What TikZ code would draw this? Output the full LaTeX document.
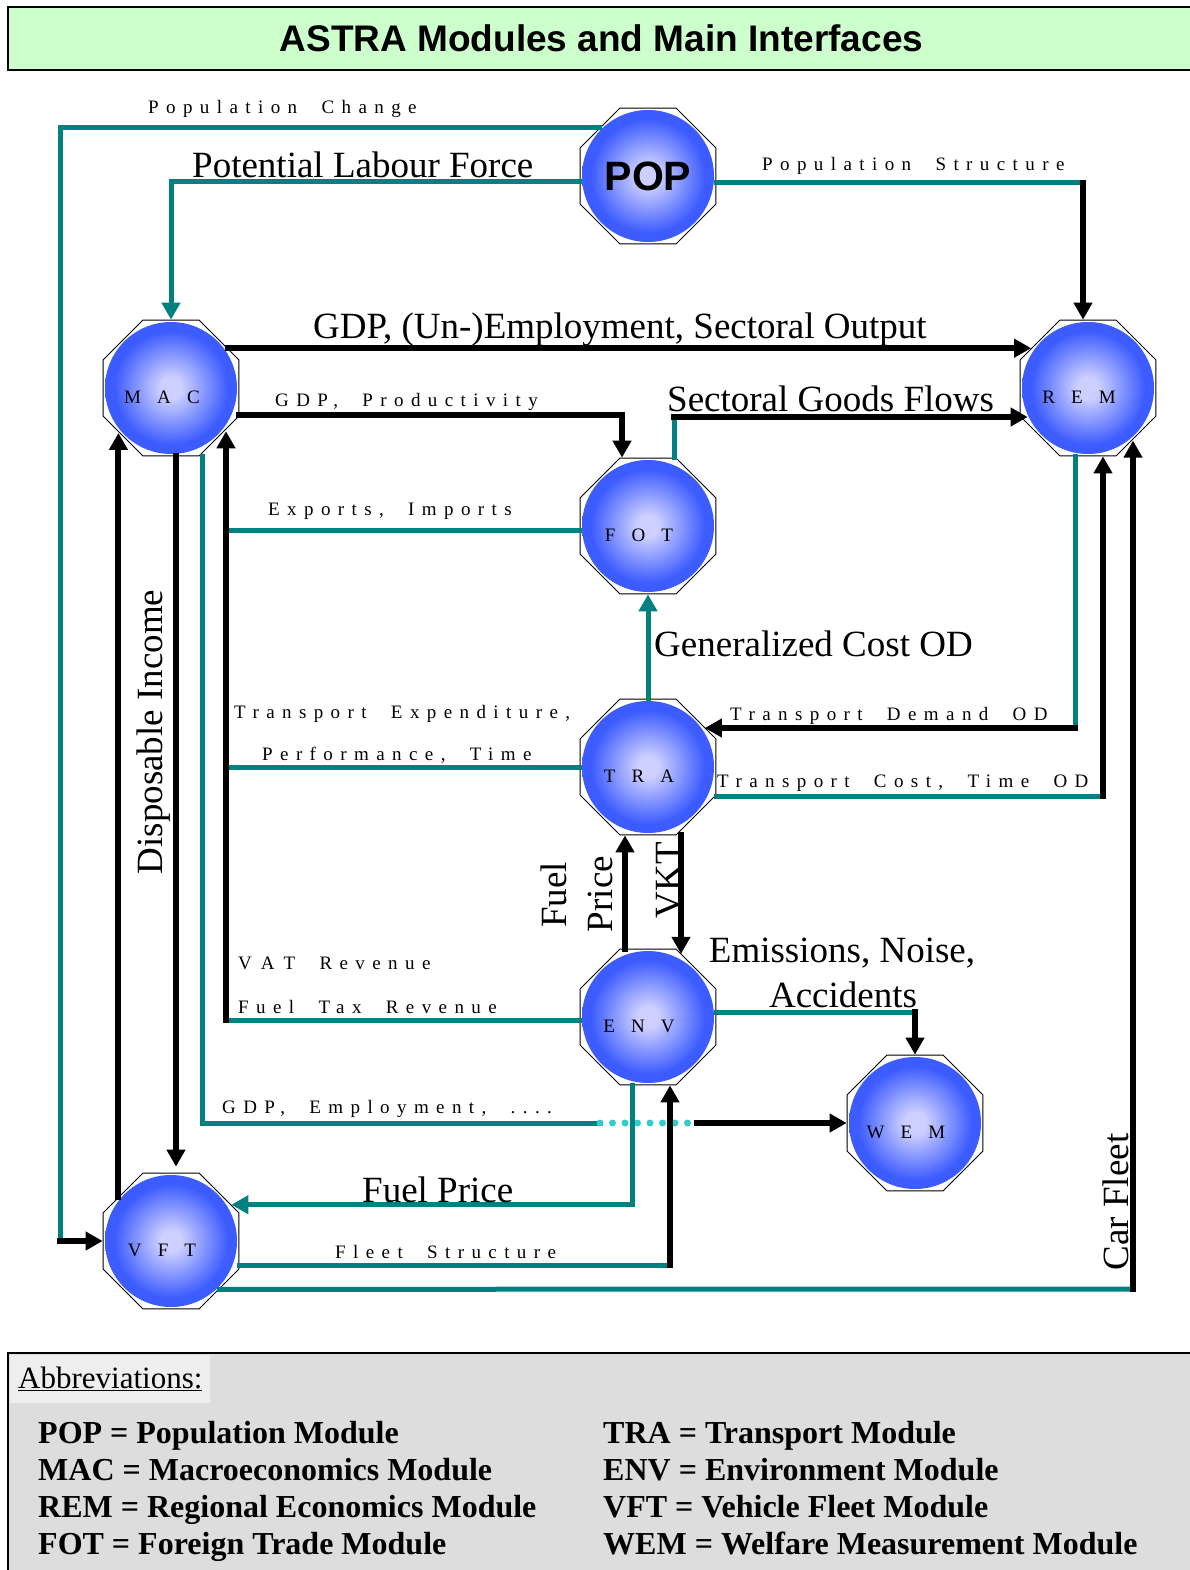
\documentclass[tikz,border=0pt]{standalone}
\usepackage{fontspec}
\setmainfont{Liberation Serif}
\newfontfamily\headfont{Liberation Sans}
\newfontfamily\spacedfont[LetterSpace=39, WordSpace=2]{Liberation Serif}
\newfontfamily\modfont[LetterSpace=85]{Liberation Serif}
\usetikzlibrary{arrows.meta, shapes.geometric}
\definecolor{astrateal}{HTML}{008080}
\definecolor{astradot}{HTML}{33CCCC}
\definecolor{astragreen}{HTML}{CCFFCC}
\definecolor{astragray}{HTML}{DDDDDD}
\definecolor{astralight}{HTML}{EEEEEE}
\definecolor{modinner}{HTML}{CCCFFF}
\definecolor{modouter}{HTML}{3D5CFF}
\pgfdeclareradialshading{modball}{\pgfpoint{0bp}{0bp}}{color(0bp)=(modinner); color(4bp)=(modinner); color(21bp)=(modouter); color(50bp)=(modouter)}

\begin{document}
\begin{tikzpicture}[x=1pt, y=-1pt,
  module/.style={regular polygon, regular polygon sides=8, minimum size=147pt, inner sep=0pt,
    draw=black, line width=0.9pt, fill=white,
    path picture={\shade[shading=modball] (path picture bounding box.center) circle (66pt);}},
  modlbl/.style={font=\fontsize{19}{22}\modfont, xshift=-9pt, yshift=-9pt, inner sep=0pt},
  tealline/.style={draw=astrateal, line width=5pt, line cap=rect},
  blackline/.style={draw=black, line width=6pt, line cap=rect},
  tealarr/.style={tealline, -{Triangle[length=17pt,width=18pt]}},
  blackarr/.style={blackline, -{Triangle[length=17pt,width=18pt]}},
  dotline/.style={draw=astradot, line width=7pt, line cap=round, dash pattern=on 0pt off 12.5pt},
  smalllbl/.style={font=\fontsize{19}{22}\spacedfont, anchor=base west, inner sep=0pt},
  biglbl/.style={font=\fontsize{37}{40}\selectfont, anchor=base west, inner sep=0pt},
  abbrev/.style={font=\fontsize{32}{36}\selectfont\bfseries, anchor=base west, inner sep=0pt},
  titlebox/.style={draw=black, line width=1.5pt, fill=astragreen, minimum width=1187pt,
    minimum height=63pt, font=\fontsize{37}{40}\headfont\bfseries}
]
  \useasboundingbox (0,0) rectangle (1190,1570);

  % title
  \node[titlebox] (title) at (601.5,38.5) {ASTRA Modules and Main Interfaces};

  % modules
  \node[module, font=\fontsize{41}{44}\headfont\bfseries] (pop) at (648,176) {POP};
  \node[module, label={[modlbl]center:MAC}] (mac) at (171,388) {};
  \node[module, label={[modlbl]center:REM}] (rem) at (1088,388) {};
  \node[module, label={[modlbl]center:FOT}] (fot) at (648,526) {};
  \node[module, label={[modlbl]center:TRA}] (tra) at (648,767) {};
  \node[module, label={[modlbl]center:ENV}] (env) at (648,1017) {};
  \node[module, label={[modlbl]center:WEM}] (wem) at (915,1123) {};
  \node[module, label={[modlbl]center:VFT}] (vft) at (171,1241) {};

  % bends and joins
  \coordinate (pcbend) at (60,1241);
  \coordinate (psbend) at (1083,183);
  \coordinate (sgbend) at (674,417);
  \coordinate (exjoin) at (226,530);
  \coordinate (tejoin) at (226,767);
  \coordinate (revbus) at (226,1020);
  \coordinate (tdbend) at (1075,728);
  \coordinate (tcbend) at (1103,796);
  \coordinate (embend) at (915,1012);
  \coordinate (gebend) at (202,1123);
  \coordinate (dotstart) at (600,1123);
  \coordinate (dotend) at (697,1123);
  \coordinate (fsbend) at (670,1265);
  \coordinate (cfbend) at (1133,1289);
  \coordinate (vkttop) at ([xshift=33pt]tra.south);

  % interfaces
  \draw[tealline] (pop.135) -| (pcbend);
  \draw[blackarr] (pcbend) -- (vft.west);
  \draw[tealarr] ([yshift=-6pt]pop.west) -| (mac.north);
  \draw[tealline] (psbend -| pop.east) -- (psbend);
  \draw[blackarr] (psbend) -- (psbend |- rem.north);
  \draw[blackarr] (mac.35) -- (rem.145);
  \draw[blackarr] ([yshift=-27pt]mac.east) -| ([xshift=-26pt]fot.north);
  \draw[tealline] (sgbend |- fot.north) -- (sgbend);
  \draw[blackarr] (sgbend) -- ([xshift=8pt]sgbend -| rem.west);
  \draw[tealline] (exjoin -| fot.west) -- (exjoin);
  \draw[tealline] (tra.west) -- (tejoin);
  \draw[tealline] (revbus -| env.west) -- (revbus);
  \draw[blackarr] (revbus) -- (revbus |- mac.-39);
  \draw[blackarr] (vft.140) -- (vft.140 |- mac.221);
  \draw[blackarr] ([xshift=5pt]mac.south) -- ([xshift=5pt,yshift=6pt]vft.north);
  \draw[tealline] (gebend |- mac.south) |- (dotstart);
  \draw[dotline] (dotstart) -- (dotend);
  \draw[blackarr] (dotend) -- (dotend -| wem.west);
  \draw[tealarr] (tra.north) -- (fot.south);
  \draw[tealline] (tdbend |- rem.south) -- (tdbend);
  \draw[blackarr] (tdbend) -- (tdbend -| tra.35);
  \draw[tealline] (tcbend -| tra.east) -- (tcbend);
  \draw[blackarr] (tcbend) -- (tcbend |- rem.south);
  \draw[tealline] (vft.-45) -- (cfbend);
  \draw[blackarr] (cfbend) -- (cfbend |- rem.-50);
  \draw[blackarr] ([xshift=-23pt]env.north) -- ([xshift=-23pt]tra.south);
  \draw[blackarr] (vkttop) -- (vkttop |- env.62);
  \draw[tealline] (embend -| env.east) -- (embend);
  \draw[blackarr] (embend) -- (embend |- wem.north);
  \draw[tealline] (fsbend -| vft.east) -- (fsbend);
  \draw[blackarr] (fsbend) -- (fsbend |- env.south);
  \draw[tealarr] ([xshift=-16pt]env.south) |- (vft.31);

  % labels
  \node[smalllbl] (pclbl) at (148,114) {Population Change};
  \node[biglbl] (plflbl) at (192,178) {Potential Labour Force};
  \node[smalllbl] (pslbl) at (762,171) {Population Structure};
  \node[biglbl] (gdplbl) at (313,338) {GDP, (Un-)Employment, Sectoral Output};
  \node[smalllbl] (gplbl) at (275,406) {GDP, Productivity};
  \node[biglbl] (sglbl) at (667,411) {Sectoral Goods Flows};
  \node[smalllbl] (exlbl) at (268,515) {Exports, Imports};
  \node[biglbl] (gclbl) at (654,656) {Generalized Cost OD};
  \node[smalllbl] (telbl) at (234,718) {Transport Expenditure,};
  \node[smalllbl] (tdlbl) at (730,720) {Transport Demand OD};
  \node[smalllbl] (pflbl) at (262,760) {Performance, Time};
  \node[smalllbl] (tclbl) at (717,787) {Transport Cost, Time OD};
  \node[smalllbl] (vatlbl) at (238,969) {V\hspace{9pt}A\hspace{9pt}T Revenue};
  \node[smalllbl] (ftlbl) at (238,1013) {Fuel Tax Revenue};
  \node[biglbl, anchor=base] (emlbl) at (842,962) {Emissions, Noise,};
  \node[biglbl, anchor=base] (aclbl) at (843,1007) {Accidents};
  \node[smalllbl] (gelbl) at (222,1113) {GDP, Employment, ....};
  \node[biglbl] (fplbl) at (362,1202) {Fuel Price};
  \node[smalllbl] (fslbl) at (335,1258) {Fleet Structure};
  \node[biglbl, rotate=90, anchor=base] (dilbl) at (162,732) {Disposable Income};
  \node[biglbl, rotate=90, anchor=base] (fuellbl) at (566,895) {Fuel};
  \node[biglbl, rotate=90, anchor=base] (pricelbl) at (612,894) {Price};
  \node[biglbl, rotate=90, anchor=base] (vktlbl) at (680,880) {VKT};
  \node[biglbl, rotate=90, anchor=base] (cflbl) at (1128,1202) {Car Fleet};

  % abbreviations
  \path[fill=astragray, draw=black, line width=1.5pt] (8,1353) rectangle (1200,1580);
  \node[fill=astralight, anchor=north west, minimum height=48pt, inner xsep=8pt,
    font=\fontsize{31}{34}\selectfont] (abbrhead) at (10,1355) {\underline{Abbreviations:}};
  \node[abbrev] (abpop) at (38,1443) {POP = Population Module};
  \node[abbrev] (abmac) at (38,1480) {MAC = Macroeconomics Module};
  \node[abbrev] (abrem) at (38,1517) {REM = Regional Economics Module};
  \node[abbrev] (abfot) at (38,1554) {FOT = Foreign Trade Module};
  \node[abbrev] (abtra) at (603,1443) {TRA = Transport Module};
  \node[abbrev] (abenv) at (603,1480) {ENV = Environment Module};
  \node[abbrev] (abvft) at (603,1517) {VFT = Vehicle Fleet Module};
  \node[abbrev] (abwem) at (603,1554) {WEM = Welfare Measurement Module};
\end{tikzpicture}
\end{document}
